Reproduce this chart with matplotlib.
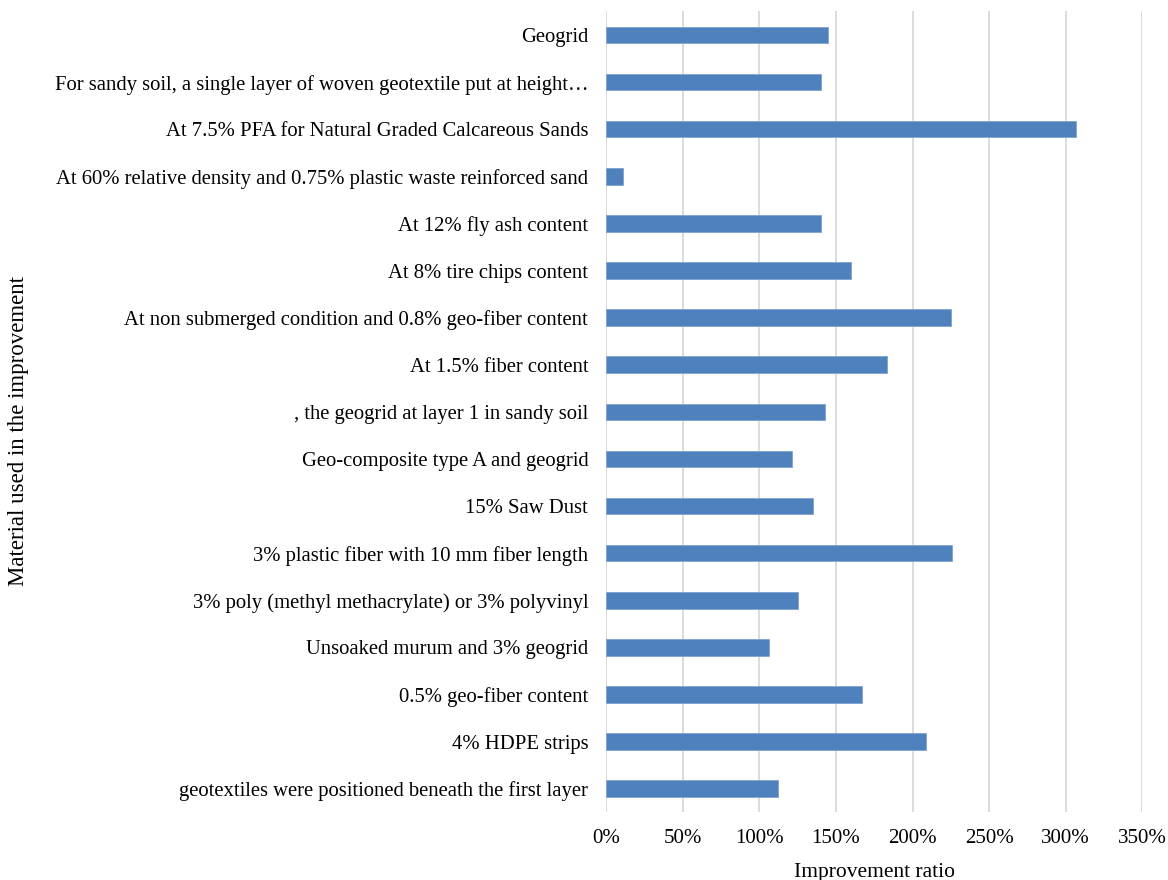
import matplotlib
matplotlib.use("Agg")
import matplotlib.pyplot as plt
from matplotlib.ticker import FuncFormatter

categories = [
    "Geogrid",
    "For sandy soil, a single layer of woven geotextile put at height\u2026",
    "At 7.5% PFA for Natural Graded Calcareous Sands",
    "At 60% relative density and 0.75% plastic waste reinforced sand",
    "At 12% fly ash content",
    "At 8% tire chips content",
    "At non submerged condition and 0.8% geo-fiber content",
    "At 1.5% fiber content",
    ", the geogrid at layer 1 in sandy soil",
    "Geo-composite type A and geogrid",
    "15% Saw Dust",
    "3% plastic fiber with 10 mm fiber length",
    "3% poly (methyl methacrylate) or 3% polyvinyl",
    "Unsoaked murum and 3% geogrid",
    "0.5% geo-fiber content",
    "4% HDPE strips",
    "geotextiles were positioned beneath the first layer",
]
values = [1.45, 1.40, 3.07, 0.11, 1.40, 1.60, 2.25, 1.83, 1.43, 1.21, 1.35,
          2.26, 1.25, 1.06, 1.67, 2.09, 1.12]
x_ticks = [0, 0.5, 1.0, 1.5, 2.0, 2.5, 3.0, 3.5]

plt.rcParams['font.family'] = ['Liberation Serif', 'DejaVu Serif']

fig = plt.figure(figsize=(11.68, 8.8), dpi=100)
ax = fig.add_axes([0.519, 0.077, 0.459, 0.91])

ypos = list(range(len(categories)))
ax.barh(ypos, values, height=0.35, color="#4F81BD", edgecolor="#7FA3D4", linewidth=0.6, zorder=3)
ax.set_yticks(ypos)
ax.set_yticklabels(categories, fontsize=14.9)
ax.set_ylim(len(categories) - 0.5, -0.5)
ax.set_xlim(0, 3.5)
ax.set_xticks(x_ticks)
ax.xaxis.set_major_formatter(FuncFormatter(lambda v, p: f"{v*100:.0f}%"))
ax.tick_params(axis='x', labelsize=15, length=0, pad=12)
ax.tick_params(axis='y', length=0, pad=13)
ax.grid(axis='x', color="#D9D9D9", linewidth=1.3, zorder=0)
for s in ax.spines.values():
    s.set_visible(False)
ax.set_xlabel("Improvement ratio", fontsize=15.5, labelpad=11)
fig.text(0.016, 0.51, "Material used in the improvement", rotation=90,
         va='center', ha='center', fontsize=16.5)

fig.savefig("out.png", dpi=100)
